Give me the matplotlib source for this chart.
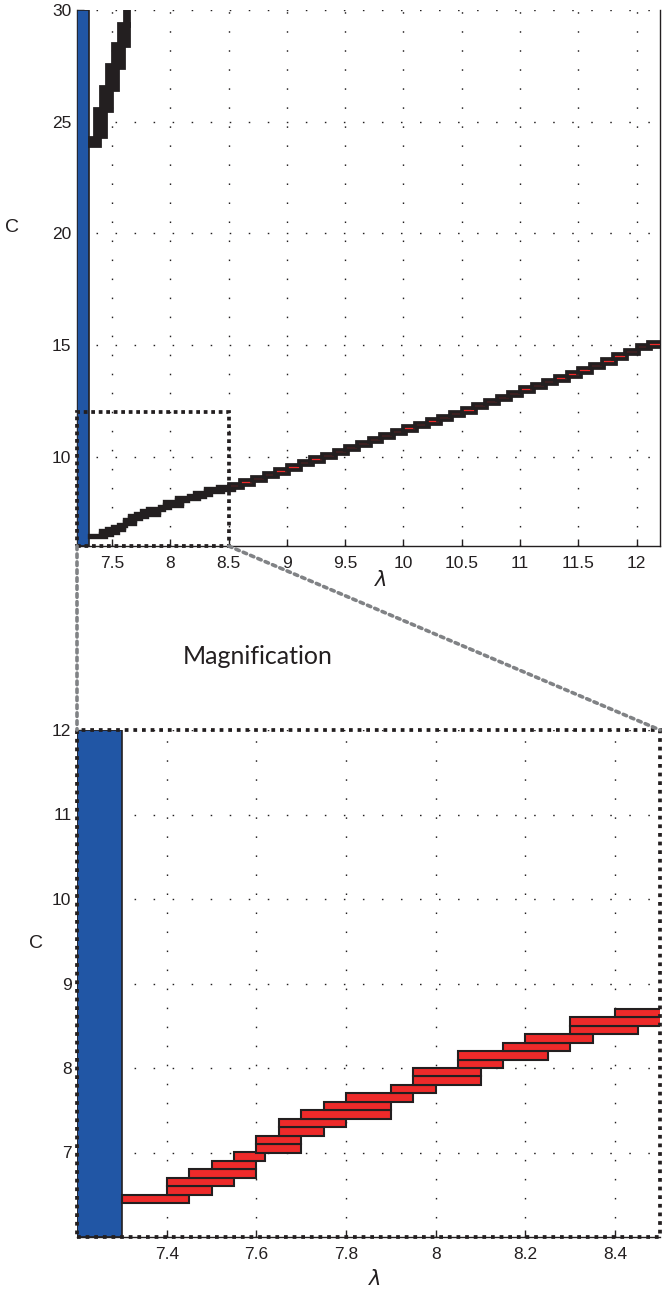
import numpy as np
import matplotlib
matplotlib.use("Agg")
import matplotlib.pyplot as plt
from matplotlib.patches import Rectangle, ConnectionPatch

plt.rcParams['font.family'] = ['Liberation Sans', 'DejaVu Sans']

W, H = 662, 1292
dark = '#231f20'
red = '#ee2a2a'
blue = '#2156a5'
grey = '#808285'

# blue strip on the left (lambda interval)
blue_lo, blue_hi = 7.2, 7.3

# enclosure boxes, lower branch, height 0.1 in C
box_lam_lo = [7.30, 7.40, 7.40, 7.45, 7.50, 7.55, 7.60, 7.60, 7.65, 7.65, 7.70, 7.75,
              7.80, 7.90, 7.95, 7.95, 8.05, 8.05, 8.15, 8.20, 8.30, 8.30, 8.40]
box_lam_hi = [7.45, 7.50, 7.55, 7.60, 7.60, 7.62, 7.70, 7.70, 7.75, 7.80, 7.90, 7.90,
              7.95, 8.00, 8.10, 8.10, 8.15, 8.25, 8.30, 8.35, 8.45, 8.55, 8.55]
box_c_lo = [6.4, 6.5, 6.6, 6.7, 6.8, 6.9, 7.0, 7.1, 7.2, 7.3, 7.4, 7.5,
            7.6, 7.7, 7.8, 7.9, 8.0, 8.1, 8.2, 8.3, 8.4, 8.5, 8.6]
box_h = 0.1

# lower branch beyond 8.5: block start and centre of C
far_lam = [8.5, 8.6, 8.7, 8.8, 8.9, 9.0, 9.1, 9.2, 9.3, 9.4, 9.5, 9.6, 9.7, 9.8, 9.9,
           10.0, 10.1, 10.2, 10.3, 10.4, 10.5, 10.6, 10.7, 10.8, 10.9, 11.0, 11.1, 11.2,
           11.3, 11.4, 11.5, 11.6, 11.7, 11.8, 11.9, 12.0, 12.1]
far_c = [8.68, 8.84, 9.00, 9.17, 9.34, 9.52, 9.72, 9.88, 10.04, 10.20, 10.38, 10.56,
         10.74, 10.92, 11.10, 11.26, 11.42, 11.58, 11.74, 11.90, 12.07, 12.26, 12.44,
         12.62, 12.80, 13.00, 13.17, 13.34, 13.51, 13.68, 13.85, 14.06, 14.27, 14.48,
         14.69, 14.90, 15.02]
far_w = 0.12
far_h = 0.2

# upper branch blocks (top panel)
up_lam_lo = [7.30, 7.35, 7.40, 7.45, 7.50, 7.55, 7.60]
up_lam_hi = [7.40, 7.45, 7.50, 7.55, 7.60, 7.65, 7.65]
up_c_lo = [23.9, 24.3, 25.5, 26.4, 27.4, 28.4, 29.3]
up_c_hi = [24.3, 25.6, 26.6, 27.6, 28.5, 29.4, 30.5]

top_xticks = [7.5, 8, 8.5, 9, 9.5, 10, 10.5, 11, 11.5, 12]
top_yticks = [10, 15, 20, 25, 30]
bot_xticks = [7.4, 7.6, 7.8, 8.0, 8.2, 8.4]
bot_yticks = [7, 8, 9, 10, 11, 12]

zoom_x = (7.2, 8.5)
zoom_y = (6.0, 12.0)

fig = plt.figure(figsize=(W / 100, H / 100), dpi=100)


def box(l, r, t, b):
    return [l / W, 1 - b / H, (r - l) / W, (b - t) / H]


ax1 = fig.add_axes(box(77, 660, 10, 546))
ax2 = fig.add_axes(box(77, 660, 730, 1237))

gridstyle = dict(color=dark, linestyle=(0, (1.1, 12.6)), linewidth=1.0)

for ax in (ax1, ax2):
    ax.set_axisbelow(True)
    ax.grid(True, **gridstyle)
    ax.tick_params(direction='in', length=5, width=1, colors=dark,
                   labelsize=12.5, pad=7)
    ax.tick_params(axis='y', pad=4)
    for s in ax.spines.values():
        s.set_color(dark)
        s.set_linewidth(1.0)

# top panel
ax1.set_xlim(7.2, 12.2)
ax1.set_ylim(6, 30)
ax1.set_xticks(top_xticks)
ax1.set_xticklabels(['7.5', '8', '8.5', '9', '9.5', '10', '10.5', '11', '11.5', '12'])
ax1.set_yticks(top_yticks)
ax1.spines['top'].set_visible(False)
ax1.axvspan(blue_lo, blue_hi, facecolor=blue, edgecolor=dark, linewidth=1.2, zorder=3)

lam_lo = np.array(box_lam_lo)
lam_hi = np.array(box_lam_hi)
ax1.bar(lam_lo, box_h, width=lam_hi - lam_lo, bottom=box_c_lo, align='edge',
        color=red, edgecolor=dark, linewidth=2.4, zorder=4)
ax1.bar(far_lam, far_h, width=far_w, bottom=np.array(far_c) - far_h / 2, align='edge',
        color=red, edgecolor=dark, linewidth=2.7, zorder=4)
ax1.bar(up_lam_lo, np.array(up_c_hi) - np.array(up_c_lo),
        width=np.array(up_lam_hi) - np.array(up_lam_lo), bottom=up_c_lo, align='edge',
        color=dark, edgecolor=dark, linewidth=2.0, zorder=4)

ax1.add_patch(Rectangle((zoom_x[0], zoom_y[0]), zoom_x[1] - zoom_x[0], zoom_y[1] - zoom_y[0],
                        fill=False, edgecolor=dark, linewidth=2.7,
                        linestyle=(0, (1, 1)), clip_on=False, zorder=6))

# bottom panel
ax2.set_xlim(*zoom_x)
ax2.set_ylim(*zoom_y)
ax2.set_xticks(bot_xticks)
ax2.set_xticklabels(['7.4', '7.6', '7.8', '8', '8.2', '8.4'])
ax2.set_yticks(bot_yticks)
for k in ('top', 'left', 'right'):
    ax2.spines[k].set_visible(False)
ax2.axvspan(blue_lo, blue_hi, facecolor=blue, edgecolor=dark, linewidth=1.2, zorder=3)
ax2.bar(lam_lo, box_h, width=lam_hi - lam_lo, bottom=box_c_lo, align='edge',
        color=red, edgecolor=dark, linewidth=1.5, zorder=4)
ax2.add_patch(Rectangle((0, 0), 1, 1, transform=ax2.transAxes, fill=False,
                        edgecolor=dark, linewidth=2.7, linestyle=(0, (1, 1.3)),
                        clip_on=False, zorder=6))

# connectors between the panels
for xv in zoom_x:
    con = ConnectionPatch(xyA=(xv, zoom_y[0]), coordsA=ax1.transData,
                          xyB=(xv, zoom_y[1]), coordsB=ax2.transData,
                          color=grey, linewidth=2.6, linestyle=(0, (1, 1.2)))
    fig.add_artist(con)

fig.text(258 / W, 1 - 657 / H, 'Magnification', fontsize=18, color=dark,
         family=['Lato', 'DejaVu Sans'], ha='center', va='center')

fig.text(12 / W, 1 - 228 / H, 'C', fontsize=14, color=dark, ha='center', va='center')
fig.text(381 / W, 1 - 580 / H, r'$\lambda$', fontsize=15, color=dark, ha='center', va='center')
fig.text(36 / W, 1 - 943 / H, 'C', fontsize=14, color=dark, ha='center', va='center')
fig.text(375 / W, 1 - 1279 / H, r'$\lambda$', fontsize=15, color=dark, ha='center', va='center')

fig.savefig('out.png', dpi=100)
